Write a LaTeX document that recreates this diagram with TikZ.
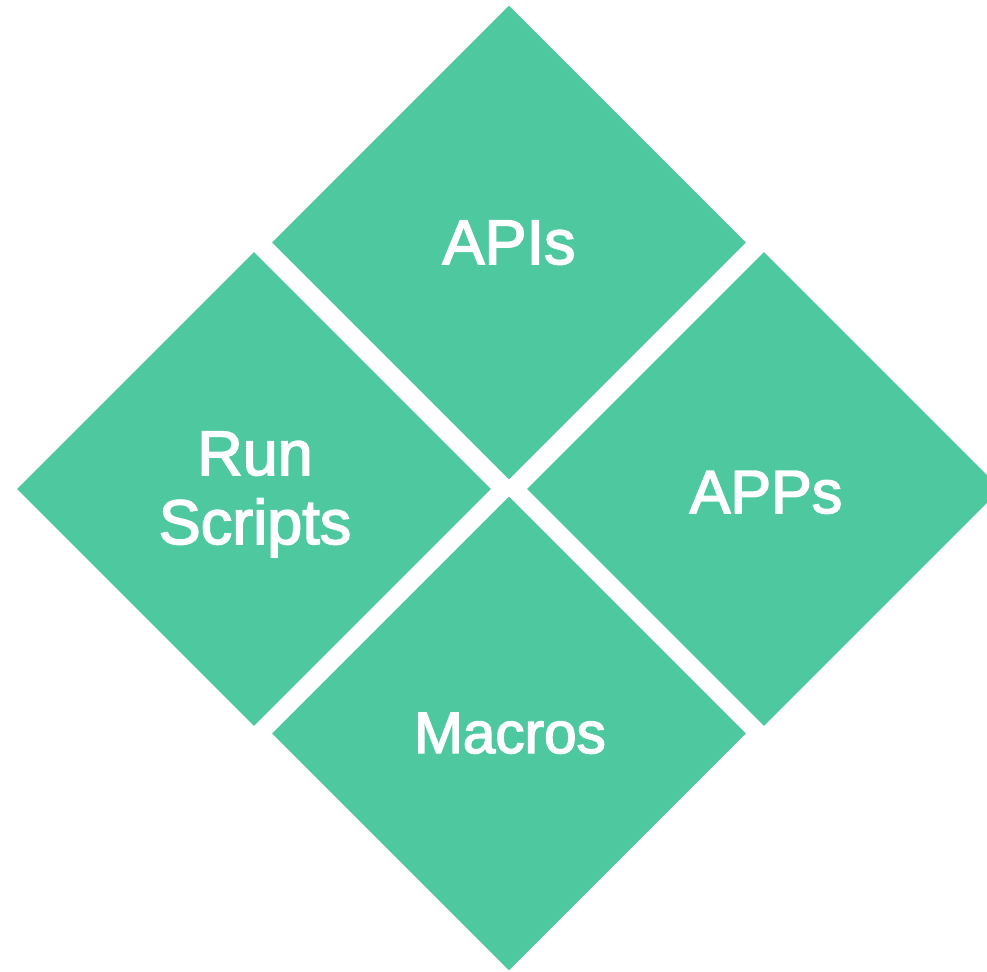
\documentclass[tikz,border=0pt]{standalone}
\usepackage{fontspec}
\setmainfont{Liberation Sans}
\newfontfamily\tilefont{Liberation Sans}[FakeBold=2.5]
\usetikzlibrary{shapes.geometric}
\definecolor{tile}{RGB}{78,200,158}
\begin{document}
\begin{tikzpicture}[x=1pt,y=-1pt,
  tilebox/.style={shape=diamond, aspect=1, fill=tile, draw=none,
    inner sep=0pt, minimum width=474pt, minimum height=474pt},
  tiletext/.style={text=white, anchor=base, inner sep=0pt,
    font=\tilefont\fontsize{63}{67}\selectfont}]
  \useasboundingbox (0,0) rectangle (987,971);
  \clip (0,0) rectangle (987,971);
  % four square tiles turned by 45 degrees
  \node[tilebox] (apis)    at (509,242.5) {};
  \node[tilebox] (scripts) at (254,489)   {};
  \node[tilebox] (apps)    at (764,489)   {};
  \node[tilebox] (macros)  at (509,733.5) {};
  % labels
  \node[tiletext] (apislabel)    at (509,264) {APIs};
  \node[tiletext] (runlabel)     at (255,475) {Run};
  \node[tiletext] (scriptslabel) at (255,544) {Scripts};
  \node[tiletext, font=\tilefont\fontsize{61}{67}\selectfont] (appslabel) at (766,513) {APPs};
  \node[tiletext, font=\tilefont\fontsize{58.5}{64}\selectfont] (macroslabel) at (510,753) {Macros};
\end{tikzpicture}
\end{document}
